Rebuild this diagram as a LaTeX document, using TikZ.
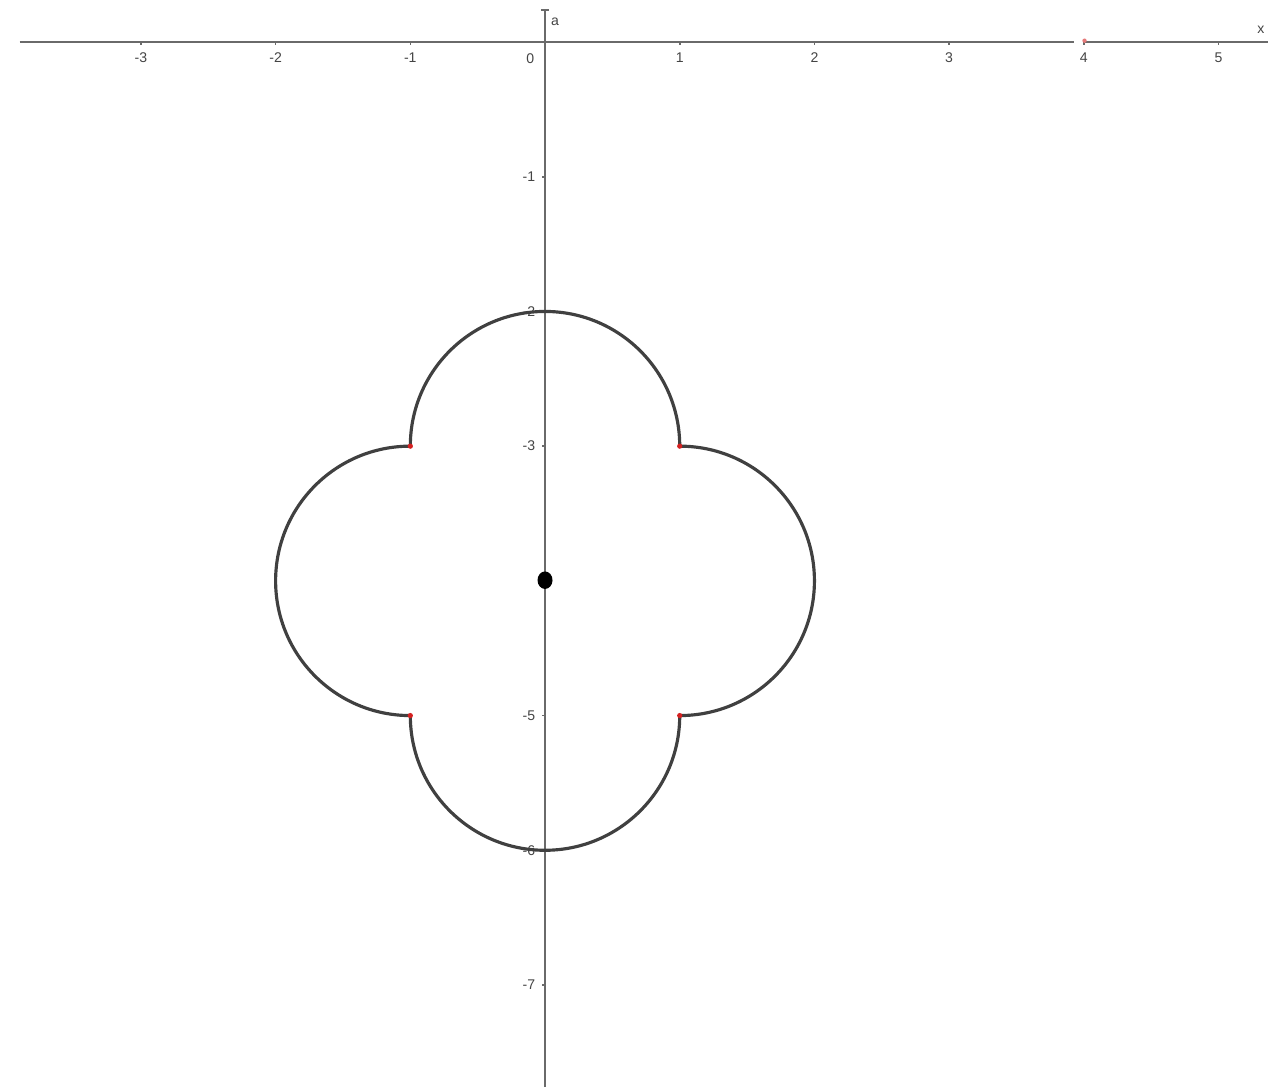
\documentclass[tikz,border=0pt]{standalone}
\usepackage{fontspec}
\setmainfont{Liberation Sans}
\usepackage{tikz}
\definecolor{axisgray}{HTML}{6A6A6A}
\definecolor{curvegray}{HTML}{404040}
\definecolor{labelgray}{HTML}{444444}
\definecolor{markred}{HTML}{D42020}

\begin{document}
\begin{tikzpicture}[
    x=2.694cm, y=2.694cm,
    axis/.style={draw=axisgray, line width=1.3pt},
    arcline/.style={draw=curvegray, line width=1.8pt},
    ticklbl/.style={font=\fontsize{8}{9}\selectfont, text=labelgray, inner sep=0pt},
    vertex/.style={circle, fill=markred, inner sep=0pt, minimum size=3pt}
  ]
    \useasboundingbox (-4.046,0.312) rectangle (5.367,-7.758);

    % axes (the x-axis has a small break at 4)
    \draw[axis] (-3.9,0) -- (3.93,0);
    \draw[axis] (4.0,0) -- (5.367,0);
    \draw[axis] (0,-7.758) -- (0,0.238);
    \draw[axis] (-0.03,0.238) -- (0.03,0.238);
    \node[ticklbl] (xname) at (5.315,0.09) {x};
    \node[ticklbl] (yname) at (0.075,0.15) {a};

    % ticks and numbers
    \foreach \i in {-3,-2,-1,1,2,3,4,5}{
      \draw[axis, line width=0.9pt] (\i,0) -- (\i,-0.025);
      \node[ticklbl, anchor=north] (xt\i) at (\i,-0.08) {\i};
    }
    \node[ticklbl] (zero) at (-0.11,-0.12) {0};
    \foreach \j in {-1,-2,-3,-4,-5,-6,-7}{
      \draw[axis, line width=0.9pt] (0,\j) -- (-0.025,\j);
      \ifnum\j=-4\else
        \node[ticklbl, anchor=east] (yt\j) at (-0.07,\j) {\j};
      \fi
    }

    % four half circles round (0,-4)
    \coordinate (tr) at (1,-3);
    \coordinate (tl) at (-1,-3);
    \coordinate (bl) at (-1,-5);
    \coordinate (br) at (1,-5);
    \draw[arcline] (tr) arc[start angle=0, end angle=180, radius=1];
    \draw[arcline] (tl) arc[start angle=90, end angle=270, radius=1];
    \draw[arcline] (bl) arc[start angle=180, end angle=360, radius=1];
    \draw[arcline] (br) arc[start angle=-90, end angle=90, radius=1];

    \foreach \p in {tr,tl,bl,br}
      \node[vertex] (m\p) at (\p) {};
    \node[vertex, minimum size=2.5pt, fill=markred!60] (mfour) at (4.005,0.01) {};

    % centre point
    \fill[black] (0,-3.995) ellipse[x radius=0.15cm, y radius=0.175cm];
  \end{tikzpicture}
\end{document}
